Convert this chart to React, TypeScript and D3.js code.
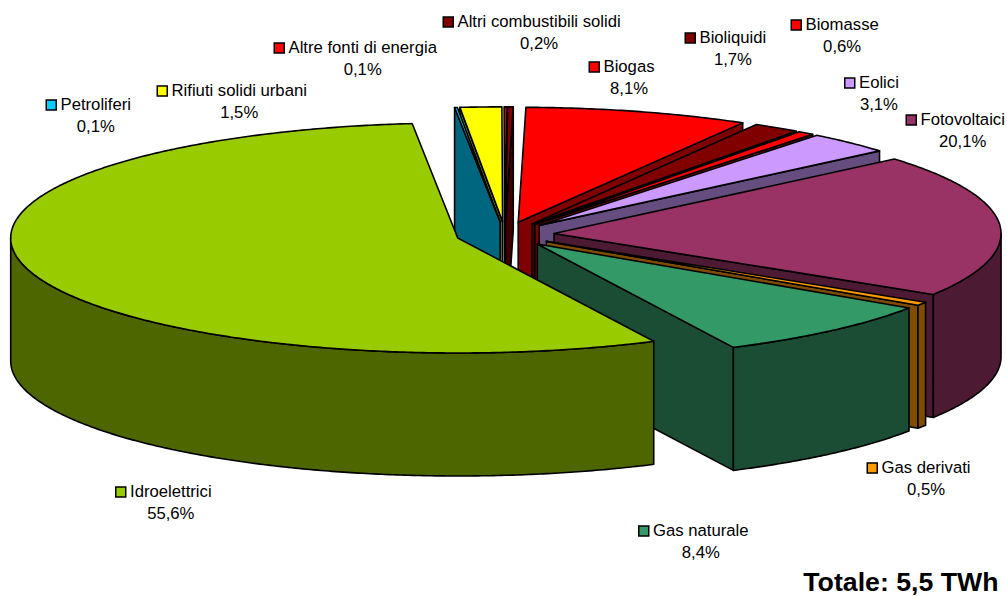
import React from 'react';
import * as d3 from 'd3';

const names = [
  'Petroliferi',
  'Rifiuti solidi urbani',
  'Altre fonti di energia',
  'Altri combustibili solidi',
  'Biogas',
  'Bioliquidi',
  'Biomasse',
  'Eolici',
  'Fotovoltaici',
  'Gas derivati',
  'Gas naturale',
  'Idroelettrici',
];
const shares = [0.1, 1.5, 0.1, 0.2, 8.1, 1.7, 0.6, 3.1, 20.1, 0.5, 8.4, 55.6];
const topColors = ['#00CCFF', '#FFFF00', '#FF0000', '#800000', '#FF0000', '#800000', '#FF0000', '#CC99FF', '#993366', '#FF9900', '#339966', '#99CC00'];
const sideColors = ['#006680', '#808000', '#800000', '#400000', '#800000', '#400000', '#800000', '#664D80', '#4D1A33', '#804D00', '#1A4D33', '#4D6600'];

// back to front, idroelettrici goes over everything
const paintOrder = [2, 3, 1, 0, 4, 5, 6, 7, 8, 9, 10, 11];

// where each data label sits: left edge of the key square, baseline of the name
const labelX = [45.5, 156.5, 273.5, 442.5, 588.5, 684.5, 790.5, 844, 905.5, 866.5, 638, 115];
const labelY = [110, 96, 53, 27, 72, 43, 30, 88, 125, 473, 536, 497];

const width = 1007;
const height = 597;
const cx = 505;
const cy = 234.5;
const rx = 447;
const ry = 115;
const depth = 123;
const explode = 0.11;
const deg = Math.PI / 180;
const firstAngle = -5.85;

const pie = d3.pie<number>().sort(null).startAngle(firstAngle * deg).endAngle((firstAngle + 360) * deg);
const arcs = pie(shares);

const line = d3.line();

type Pt = [number, number];

const arcPoints = (a0: number, a1: number, ox: number, oy: number, dy = 0): Pt[] => {
  const n = Math.max(2, Math.ceil(Math.abs(a1 - a0) / (0.5 * deg)));
  return d3.range(n + 1).map((i) => {
    const a = a0 + ((a1 - a0) * i) / n;
    return [ox + rx * Math.sin(a), oy - ry * Math.cos(a) + dy] as Pt;
  });
};

const Slice = ({ i }: { i: number }) => {
  const { startAngle, endAngle } = arcs[i];
  const mid = (startAngle + endAngle) / 2;
  const ox = cx + explode * rx * Math.sin(mid);
  const oy = cy - explode * ry * Math.cos(mid);
  const apex: Pt = [ox, oy];
  const walls: Pt[][] = [];

  // cut faces, only the ones turned to the viewer
  const edge = (a: number): Pt[] => {
    const p = arcPoints(a, a, ox, oy)[0];
    return [apex, p, [p[0], p[1] + depth], [ox, oy + depth]];
  };
  if (Math.sin(startAngle) < 0) walls.push(edge(startAngle));
  if (Math.sin(endAngle) > 0) walls.push(edge(endAngle));

  // outer rim, front half of the ellipse only
  const from = Math.max(startAngle, 90 * deg);
  const to = Math.min(endAngle, 270 * deg);
  if (to > from) {
    const upper = arcPoints(from, to, ox, oy);
    const lower = arcPoints(to, from, ox, oy, depth);
    walls.push([...upper, ...lower]);
  }

  const top: Pt[] = [apex, ...arcPoints(startAngle, endAngle, ox, oy)];

  return (
    <g stroke="#000" strokeWidth={1.6} strokeLinejoin="round">
      {walls.map((w, k) => (
        <path key={k} d={line(w) + 'Z'} fill={sideColors[i]} />
      ))}
      <path d={line(top) + 'Z'} fill={topColors[i]} />
    </g>
  );
};

const fontFamily = '"Liberation Sans", Arial, sans-serif';
const labelSize = 16.7;

const Label = ({ i }: { i: number }) => {
  const x = labelX[i];
  const y = labelY[i];
  const textX = x + 15;
  const pct = shares[i].toFixed(1).replace('.', ',') + '%';
  return (
    <g>
      <rect x={x + 0.75} y={y - 10} width={10} height={10} fill={topColors[i]} stroke="#000" strokeWidth={1.5} />
      <text
        x={textX}
        y={y}
        fontSize={labelSize}
        fill="#000"
        ref={(el) => {
          if (!el) return;
          // the percentage is centred under the name, not under the key
          const next = el.nextElementSibling as SVGTextElement | null;
          if (next) next.setAttribute('x', String(textX + el.getComputedTextLength() / 2));
        }}
      >
        {names[i]}
      </text>
      <text x={textX} y={y + 21.5} fontSize={labelSize} fill="#000" textAnchor="middle">
        {pct}
      </text>
    </g>
  );
};

export default function App() {
  return (
    <svg
      width={width}
      height={height}
      style={{ position: 'absolute', left: 0, top: 0, display: 'block', background: '#fff' }}
      fontFamily={fontFamily}
    >
      {paintOrder.map((i) => (
        <Slice key={i} i={i} />
      ))}
      {names.map((_, i) => (
        <Label key={i} i={i} />
      ))}
      <text x={998.5} y={591} textAnchor="end" fontSize={26.7} fontWeight="bold" fill="#000">
        Totale: 5,5 TWh
      </text>
    </svg>
  );
}
